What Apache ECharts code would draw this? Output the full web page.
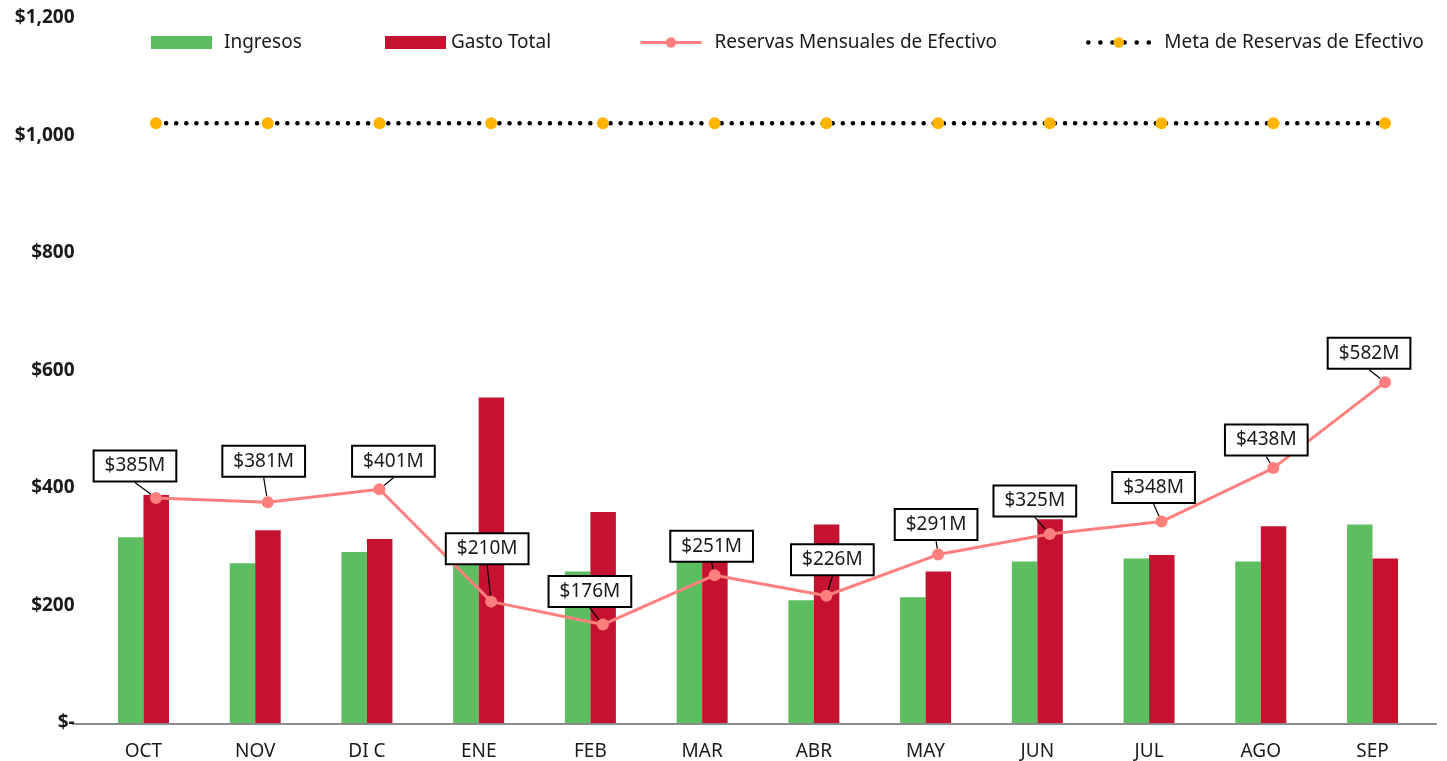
<!DOCTYPE html>
<html>
<head>
<meta charset="utf-8">
<script src="https://cdn.jsdelivr.net/npm/echarts@6/dist/echarts.min.js"></script>
<style>
  html, body { margin: 0; padding: 0; background: #fff; }
  #chart { width: 1447px; height: 761px; }
</style>
</head>
<body>
<div id="chart"></div>
<script>
const months = ["OCT", "NOV", "DI C", "ENE", "FEB", "MAR", "ABR", "MAY", "JUN", "JUL", "AGO", "SEP"];
const ingresos = [316, 272, 291, 270, 258, 280, 209, 214, 275, 280, 275, 338];
const gastoTotal = [388, 328, 313, 554, 359, 295, 338, 258, 347, 286, 335, 280];
const reservas = [384, 377, 399, 208, 169, 253, 218, 288, 323, 344, 435, 581];
const reservasLabels = ["$385M", "$381M", "$401M", "$210M", "$176M", "$251M", "$226M", "$291M", "$325M", "$348M", "$438M", "$582M"];
const metaReservas = [1021, 1021, 1021, 1021, 1021, 1021, 1021, 1021, 1021, 1021, 1021, 1021];
const yTickLabels = ["$-", "$200", "$400", "$600", "$800", "$1,000", "$1,200"];

// where each callout box sits relative to its point (px)
const labelShift = [
  [-21, -32], [-4, -41], [14, -28], [-4, -53], [-13, -33], [-3, -29],
  [6, -36], [-2, -30], [-15, -33], [-8, -34], [-7, -28], [-16, -29]
];

const FONT = "Noto Sans";
const chart = echarts.init(document.getElementById("chart"));

const legendText = { color: "#1a1a1a", fontSize: 19, fontFamily: FONT };

chart.setOption({
  animation: false,
  textStyle: { fontFamily: FONT },
  legend: [
    { data: [{ name: "Ingresos", icon: "rect" }], left: 146, top: 28, itemWidth: 61, itemHeight: 13,
      textStyle: Object.assign({ padding: [0, 0, 0, 7] }, legendText) },
    { data: [{ name: "Gasto Total", icon: "rect" }], left: 380, top: 28, itemWidth: 61, itemHeight: 13,
      textStyle: Object.assign({ padding: [0, 0, 0, 0] }, legendText) },
    { data: ["Reservas Mensuales de Efectivo"], left: 634, top: 28, itemWidth: 61, itemHeight: 13,
      lineStyle: { width: 3 },
      textStyle: Object.assign({ padding: [0, 0, 0, 8] }, legendText) },
    { data: ["Meta de Reservas de Efectivo"], left: 1081, top: 28, itemWidth: 61, itemHeight: 13,
      lineStyle: { width: 4.5, type: [0.1, 12], cap: "round" },
      textStyle: Object.assign({ padding: [0, 0, 0, 10] }, legendText) }
  ],
  grid: [
    { left: 87.6, right: 18.6, top: 18, bottom: 37 },
    { left: 100.1, right: 6.1, top: 18, bottom: 37 },
    { left: 73, right: 11, top: 18, bottom: 37 }
  ],
  xAxis: [
    {
      type: "category", gridIndex: 0, data: months,
      axisLine: { show: false }, axisTick: { show: false },
      axisLabel: { color: "#1a1a1a", fontSize: 19, margin: 19 }
    },
    { type: "category", gridIndex: 1, data: months, show: false },
    {
      type: "value", gridIndex: 2, min: 0, max: 1,
      axisLine: { show: true, lineStyle: { color: "#8c8c8c", width: 2 } },
      axisTick: { show: false }, axisLabel: { show: false }, splitLine: { show: false }
    }
  ],
  yAxis: [
    {
      type: "value", gridIndex: 0, min: 0, max: 1200, interval: 200,
      axisLine: { show: false }, axisTick: { show: false }, splitLine: { show: false },
      axisLabel: {
        color: "#1a1a1a", fontSize: 19, fontWeight: "bold", margin: 13, padding: [6, 0, 0, 0],
        formatter: (v) => yTickLabels[Math.round(v / 200)]
      }
    },
    { type: "value", gridIndex: 1, min: 0, max: 1200, interval: 200, show: false },
    { type: "value", gridIndex: 2, min: 0, max: 1, show: false }
  ],
  series: [
    {
      name: "Ingresos", type: "bar", xAxisIndex: 0, yAxisIndex: 0,
      data: ingresos, barWidth: 25.5, barGap: "0%",
      itemStyle: { color: "#5dbe5f" }, z: 2
    },
    {
      name: "Gasto Total", type: "bar", xAxisIndex: 0, yAxisIndex: 0,
      data: gastoTotal, barWidth: 25.5, barGap: "0%",
      itemStyle: { color: "#c41230" }, z: 2
    },
    {
      name: "Meta de Reservas de Efectivo", type: "line", xAxisIndex: 1, yAxisIndex: 1,
      data: metaReservas, symbol: "circle", symbolSize: 12,
      lineStyle: { color: "#000", width: 4.5, type: [0.1, 10], cap: "round" },
      itemStyle: { color: "#ffb400" }, z: 4
    },
    {
      name: "Reservas Mensuales de Efectivo", type: "line", xAxisIndex: 1, yAxisIndex: 1,
      data: reservas, symbol: "circle", symbolSize: 12,
      lineStyle: { color: "#ff7f7f", width: 3 },
      itemStyle: { color: "#ff7f7f" }, z: 5,
      label: {
        show: true, position: "inside",
        formatter: (p) => reservasLabels[p.dataIndex],
        color: "#1a1a1a", fontSize: 19, lineHeight: 22,
        backgroundColor: "#fff", borderColor: "#000", borderWidth: 2,
        padding: [4, 10, 3, 10]
      },
      labelLine: { show: true, lineStyle: { color: "#000", width: 1.2 } },
      labelLayout: (p) => ({ dx: labelShift[p.dataIndex][0], dy: labelShift[p.dataIndex][1] })
    }
  ]
});
</script>
</body>
</html>
